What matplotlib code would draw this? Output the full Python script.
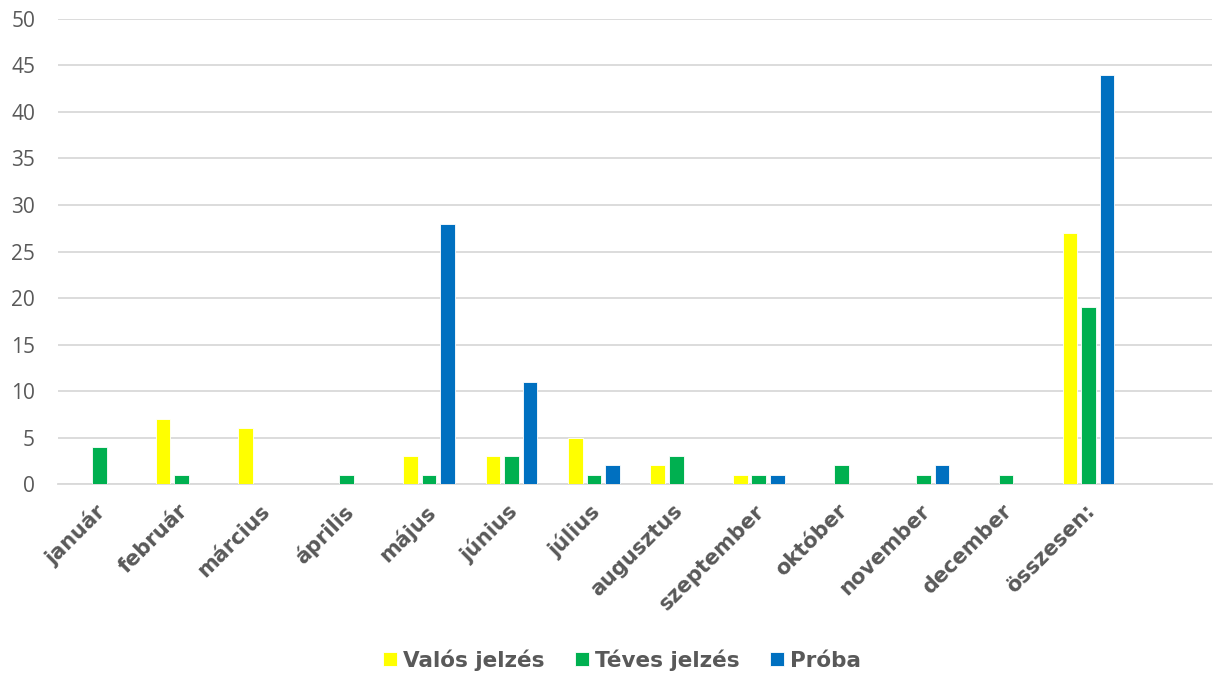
import matplotlib.pyplot as plt
import matplotlib.transforms as mtransforms
import numpy as np

categories = ['január', 'február', 'március', 'április', 'május', 'június', 'július',
              'augusztus', 'szeptember', 'október', 'november', 'december', 'összesen:']
valos = [0, 7, 6, 0, 3, 3, 5, 2, 1, 0, 0, 0, 27]
teves = [4, 1, 0, 1, 1, 3, 1, 3, 1, 2, 1, 1, 19]
proba = [0, 0, 0, 0, 28, 11, 2, 0, 1, 0, 2, 0, 44]

series = [('Valós jelzés', valos, '#FFFF00'),
          ('Téves jelzés', teves, '#00B050'),
          ('Próba', proba, '#0070C0')]

text_color = '#595959'

fig = plt.figure(figsize=(12.15, 6.77), dpi=100)
ax = fig.add_axes([0.0477, 0.285, 0.950, 0.687])

x = np.arange(len(categories))
w = 0.178
step = 0.224
for i, (name, vals, col) in enumerate(series):
    ax.bar(x + (i - 1) * step, vals, width=w, color=col, label=name,
           edgecolor='white', linewidth=0.6, zorder=3)

ax.set_xlim(-0.5, len(categories) + 0.5)
ax.set_ylim(0, 50)
ax.set_yticks(range(0, 51, 5))
ax.yaxis.grid(True, color='#D9D9D9', linewidth=1.3, zorder=0)
ax.set_axisbelow(True)
for s in ['top', 'right', 'left']:
    ax.spines[s].set_visible(False)
ax.spines['bottom'].set_color('#D9D9D9')
ax.spines['bottom'].set_linewidth(1.3)

ax.tick_params(axis='both', length=0)
ax.tick_params(axis='y', labelcolor=text_color, pad=16.5)
for t in ax.get_yticklabels():
    t.set_fontfamily('Open Sans')
    t.set_fontsize(15)

ax.set_xticks(x)
ax.set_xticklabels(categories, rotation=45, ha='right', rotation_mode='anchor',
                   fontsize=15, fontweight='bold', color=text_color)
ax.tick_params(axis='x', pad=12)
offset = mtransforms.ScaledTranslation(-4 / 100, 0, fig.dpi_scale_trans)
for t in ax.get_xticklabels():
    t.set_transform(t.get_transform() + offset)

leg = fig.legend(loc='center', bbox_to_anchor=(0.512, 0.025), ncol=3, frameon=False,
                 handlelength=0.65, handleheight=0.65, handletextpad=0.3, columnspacing=1.4,
                 prop={'size': 15.5, 'weight': 'bold'})
for t in leg.get_texts():
    t.set_color(text_color)

fig.savefig('out.png', dpi=100)
